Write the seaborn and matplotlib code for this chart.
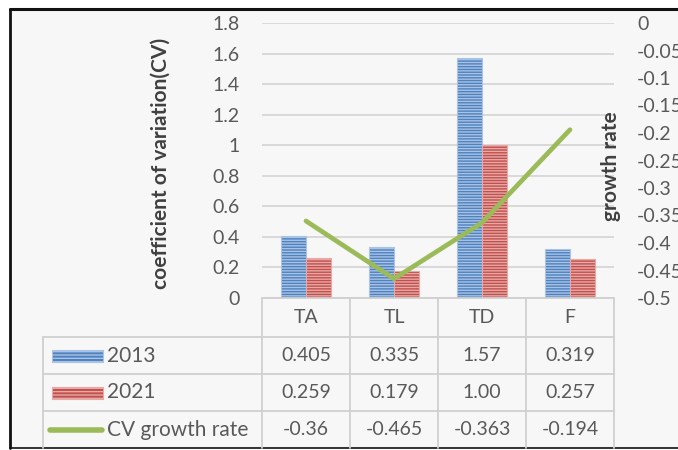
import numpy as np
import pandas as pd
import matplotlib
matplotlib.use("Agg")
import matplotlib.pyplot as plt
import seaborn as sns
from matplotlib.lines import Line2D
from matplotlib.patches import Rectangle

# ---------------- data ----------------
categories = ["TA", "TL", "TD", "F"]
cv_2013 = [0.405, 0.335, 1.57, 0.319]
cv_2021 = [0.259, 0.179, 1.00, 0.257]
cv_growth = [-0.36, -0.465, -0.363, -0.194]
labels_2013 = ["0.405", "0.335", "1.57", "0.319"]
labels_2021 = ["0.259", "0.179", "1.00", "0.257"]
labels_growth = ["-0.36", "-0.465", "-0.363", "-0.194"]
series_names = ["2013", "2021", "CV growth rate"]
left_ticks = [0, 0.2, 0.4, 0.6, 0.8, 1.0, 1.2, 1.4, 1.6, 1.8]
left_tick_labels = ["0", "0.2", "0.4", "0.6", "0.8", "1", "1.2", "1.4", "1.6", "1.8"]
right_ticks = [0, -0.05, -0.1, -0.15, -0.2, -0.25, -0.3, -0.35, -0.4, -0.45, -0.5]
right_tick_labels = ["0", "-0.05", "-0.1", "-0.15", "-0.2", "-0.25", "-0.3",
                     "-0.35", "-0.4", "-0.45", "-0.5"]

BLUE, BLUE_L = "#4f81bd", "#a8c3e6"
RED, RED_L = "#c0504d", "#e8a8a6"
GREEN = "#9bbb59"
TXT = "#595959"
GRID = "#d9d9d9"
FS_NUM = 14
FS_ROW = 15

sns.set_theme(style="white")
plt.rcParams["font.family"] = ["Lato", "DejaVu Sans"]
plt.rcParams["hatch.linewidth"] = 1.0

W, H = 678, 450
fig = plt.figure(figsize=(W / 100, H / 100), dpi=100)
fig.patch.set_facecolor("white")


def fx(x):
    return x / W


def fy(y):
    return 1 - y / H


# background + frame
fig.add_artist(Rectangle((fx(10), fy(448)), 1.0, fy(9) - fy(448),
                         transform=fig.transFigure, facecolor="#f7f7f7",
                         edgecolor="none", zorder=-10))
for (x0, y0, x1, y1, lw) in [(10, 9, 678, 9, 2.2), (10, 9, 10, 448, 2.0),
                             (10, 448, 678, 448, 1.2)]:
    fig.add_artist(Line2D([fx(x0), fx(x1)], [fy(y0), fy(y1)],
                          transform=fig.transFigure, color="#111111", lw=lw))

# ---------------- axes ----------------
ax = fig.add_axes([fx(262), fy(298), (614 - 262) / W, (298 - 23) / H])
ax.set_facecolor("none")

df = pd.DataFrame({
    "cat": categories * 2,
    "year": [series_names[0]] * len(categories) + [series_names[1]] * len(categories),
    "cv": cv_2013 + cv_2021,
})
sns.barplot(data=df, x="cat", y="cv", hue="year", palette=[BLUE, RED],
            width=0.57, saturation=1, ax=ax, legend=False, errorbar=None)
for cont, light in zip(ax.containers, [BLUE_L, RED_L]):
    for p in cont:
        p.set_hatch("------")
        p.set_edgecolor(light)
        p.set_linewidth(0.8)

ax.set_xlim(-0.5, len(categories) - 0.5)
ax.set_ylim(0, 1.8)
ax.set_yticks(left_ticks)
ax.set_yticklabels(left_tick_labels)
ax.set_xticks([])
ax.set_xlabel("")
ax.set_ylabel("")
ax.yaxis.grid(True, color=GRID, lw=1.4)
ax.set_axisbelow(True)
ax.tick_params(axis="y", length=0, pad=16, labelsize=FS_NUM, labelcolor=TXT)
for s in ax.spines.values():
    s.set_visible(False)

ax2 = ax.twinx()
sns.lineplot(x=np.arange(len(categories)), y=cv_growth, ax=ax2, color=GREEN,
             lw=3.4, solid_capstyle="round")
ax2.set_xlim(-0.5, len(categories) - 0.5)
ax2.set_ylim(-0.5, 0)
ax2.set_yticks(right_ticks)
ax2.set_yticklabels(right_tick_labels)
ax2.tick_params(axis="y", length=0, pad=16.5, labelsize=FS_NUM, labelcolor=TXT)
ax2.set_ylabel("")
ax2.grid(False)
for s in ax2.spines.values():
    s.set_visible(False)

fig.text(fx(161), fy(163), "coefficient of variation(CV)", rotation=90,
         ha="center", va="center", fontsize=15, fontweight="bold", color="#404040")
fig.text(fx(611), fy(166), "growth rate", rotation=90,
         ha="center", va="center", fontsize=15, fontweight="bold", color="#404040")

# ---------------- data table ----------------
col_x = [262, 350, 438, 526, 614]
row_y = [298, 337, 374, 411, 448]
TL = "#d0d0d0"
for x in col_x:
    fig.add_artist(Line2D([fx(x), fx(x)], [fy(298), fy(448)],
                          transform=fig.transFigure, color=TL, lw=1.3))
fig.add_artist(Line2D([fx(43), fx(43)], [fy(337), fy(448)],
                      transform=fig.transFigure, color=TL, lw=1.3))
fig.add_artist(Line2D([fx(262), fx(614)], [fy(298), fy(298)],
                      transform=fig.transFigure, color=TL, lw=1.3))
for y in row_y[1:4]:
    fig.add_artist(Line2D([fx(43), fx(614)], [fy(y), fy(y)],
                          transform=fig.transFigure, color=TL, lw=1.3))

centers = [(col_x[i] + col_x[i + 1]) / 2 for i in range(len(categories))]
row_c = [(row_y[i] + row_y[i + 1]) / 2 for i in range(4)]
for cx, lab in zip(centers, categories):
    fig.text(fx(cx), fy(row_c[0]), lab, ha="center", va="center", fontsize=FS_NUM, color=TXT)
for r, labs in zip(row_c[1:], [labels_2013, labels_2021, labels_growth]):
    for cx, lab in zip(centers, labs):
        fig.text(fx(cx), fy(r), lab, ha="center", va="center", fontsize=FS_NUM, color=TXT)

# legend keys in the table
for r, col, light in [(row_c[1], BLUE, BLUE_L), (row_c[2], RED, RED_L)]:
    fig.add_artist(Rectangle((fx(52), fy(r + 6)), fx(103) - fx(52), fy(r - 6) - fy(r + 6),
                             transform=fig.transFigure, facecolor=col,
                             edgecolor=light, hatch="-----", lw=0.8))
fig.add_artist(Line2D([fx(50), fx(102)], [fy(row_c[3]), fy(row_c[3])],
                      transform=fig.transFigure, color=GREEN, lw=4,
                      solid_capstyle="round"))
for r, name in zip(row_c[1:], series_names):
    fig.text(fx(107), fy(r), name, ha="left", va="center", fontsize=FS_ROW, color=TXT)

fig.savefig("out.png", dpi=100, facecolor=fig.get_facecolor())
